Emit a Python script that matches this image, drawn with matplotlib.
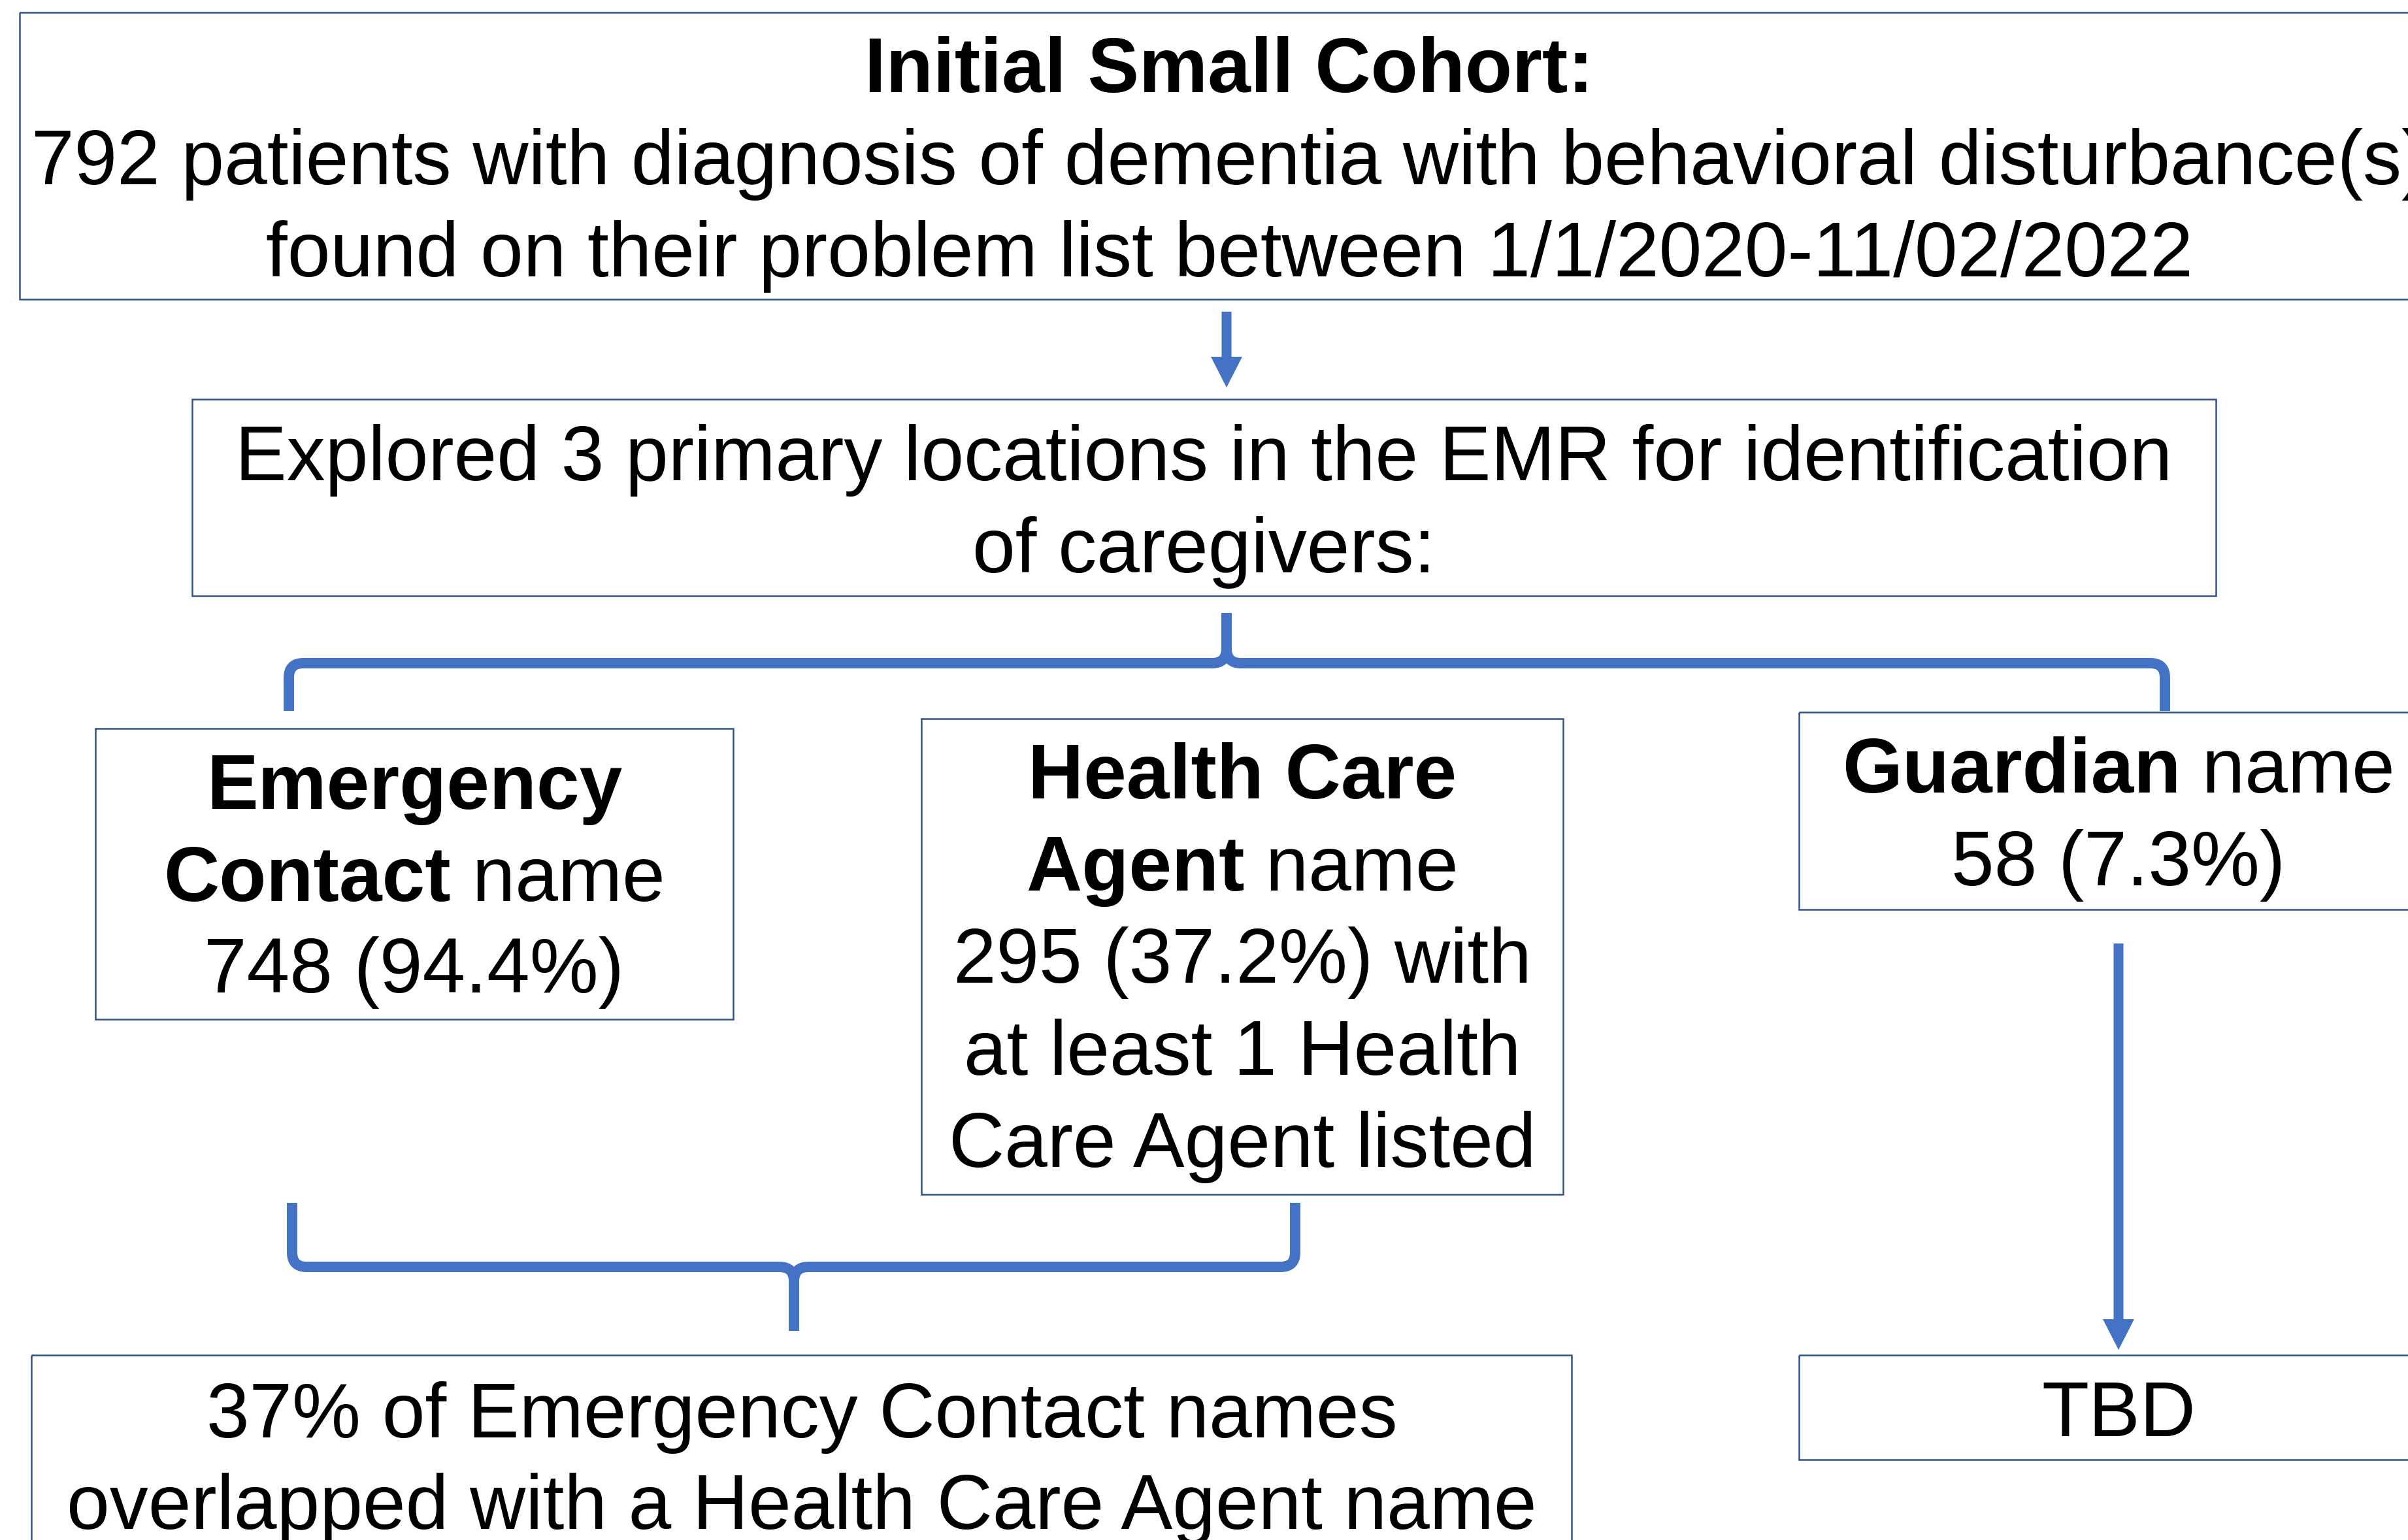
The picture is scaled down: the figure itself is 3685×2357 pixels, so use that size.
import matplotlib
matplotlib.use("Agg")
import matplotlib.pyplot as plt
from matplotlib.patches import Rectangle, FancyArrow, PathPatch
from matplotlib.path import Path

# ---------------------------------------------------------------------------
# Cohort numbers
# ---------------------------------------------------------------------------
TOTAL_PATIENTS = 792
DATE_START = "1/1/2020"
DATE_END = "11/02/2022"
N_LOCATIONS = 3
COUNTS = [748, 295, 58]              # emergency contact, health care agent, guardian
PERCENTS = [94.4, 37.2, 7.3]
OVERLAP_PCT = 37
GUARDIAN_RESULT = "TBD"

# ---------------------------------------------------------------------------
# Style
# ---------------------------------------------------------------------------
W, H = 3685, 2357
FONT = "Liberation Sans"
FS = 85
EDGE = "#2F528F"
BLUE = "#4472C4"
BOX_LW = 1.8
BRACE_LW = 11.5

fig = plt.figure(figsize=(W / 100, H / 100), dpi=100, facecolor="white")
ax = fig.add_axes([0, 0, 1, 1])
ax.set_xlim(0, W)
ax.set_ylim(H, 0)
ax.axis("off")
renderer = fig.canvas.get_renderer()


def box(x0, y0, x1, y1):
    ax.add_patch(Rectangle((x0, y0), x1 - x0, y1 - y0, fill=False,
                           edgecolor=EDGE, lw=BOX_LW))


def line(cx, y, parts):
    # parts: list of (text, weight); the whole line is centred on cx
    texts = [ax.text(0, y, s, fontsize=FS, fontweight=w, family=FONT,
                     va="baseline", ha="left", color="black")
             for s, w in parts]
    widths = [t.get_window_extent(renderer).width for t in texts]
    x = cx - sum(widths) / 2
    for t, wd in zip(texts, widths):
        t.set_x(x)
        x += wd


def arrow(x, y0, y1):
    ax.add_patch(FancyArrow(x, y0, 0, y1 - y0, width=15, head_width=48,
                            head_length=47, length_includes_head=True,
                            color=BLUE, lw=0))


def brace(xl, xr, xm, y_end, y_bar, y_tip, r=22):
    s = 1 if y_end > y_bar else -1   # direction of the end legs
    t = 1 if y_tip > y_bar else -1   # direction of the tip
    verts = [(xl, y_end), (xl, y_bar + s * r), (xl, y_bar), (xl + r, y_bar),
             (xm - r, y_bar), (xm, y_bar), (xm, y_bar + t * r), (xm, y_tip),
             (xm, y_bar + t * r), (xm, y_bar), (xm + r, y_bar),
             (xr - r, y_bar), (xr, y_bar), (xr, y_bar + s * r), (xr, y_end)]
    codes = [Path.MOVETO, Path.LINETO, Path.CURVE3, Path.CURVE3,
             Path.LINETO, Path.CURVE3, Path.CURVE3, Path.LINETO,
             Path.MOVETO, Path.CURVE3, Path.CURVE3,
             Path.LINETO, Path.CURVE3, Path.CURVE3, Path.LINETO]
    ax.add_patch(PathPatch(Path(verts, codes), fill=False, edgecolor=BLUE,
                           lw=BRACE_LW, capstyle="butt", joinstyle="round"))


# top cohort box
box(30, 19, 3732, 458)
line(1881, 141, [("Initial Small Cohort:", "bold")])
line(1881, 282, [(f"{TOTAL_PATIENTS} patients with diagnosis of dementia "
                  "with behavioral disturbance(s)", "normal")])
line(1881, 423, [(f"found on their problem list between {DATE_START}-{DATE_END}",
                  "normal")])

arrow(1877, 477, 593)

# explored locations
box(294, 611, 3391, 912)
line(1842, 735, [(f"Explored {N_LOCATIONS} primary locations in the EMR "
                  "for identification", "normal")])
line(1842, 876, [("of caregivers:", "normal")])

brace(442, 3313, 1877, 1088, 1015, 938)

# emergency contact
box(146, 1115, 1122, 1560)
line(634, 1238, [("Emergency", "bold")])
line(634, 1379, [("Contact", "bold"), (" name", "normal")])
line(634, 1519, [(f"{COUNTS[0]} ({PERCENTS[0]}%)", "normal")])

# health care agent
box(1410, 1100, 2392, 1828)
line(1901, 1222, [("Health Care", "bold")])
line(1901, 1363, [("Agent", "bold"), (" name", "normal")])
line(1901, 1504, [(f"{COUNTS[1]} ({PERCENTS[1]}%) with", "normal")])
line(1901, 1645, [("at least 1 Health", "normal")])
line(1901, 1786, [("Care Agent listed", "normal")])

# guardian
box(2753, 1090, 3730, 1392)
line(3242, 1213, [("Guardian", "bold"), (" name", "normal")])
line(3242, 1355, [(f"{COUNTS[2]} ({PERCENTS[2]}%)", "normal")])

arrow(3242, 1444, 2066)

box(2753, 2074, 3730, 2234)
line(3242, 2198, [(GUARDIAN_RESULT, "normal")])

# overlap of emergency contacts and agents
brace(447, 1982, 1215, 1841, 1939, 2037)

box(48, 2074, 2405, 2420)
line(1227, 2200, [(f"{OVERLAP_PCT}% of Emergency Contact names", "normal")])
line(1227, 2340, [("overlapped with a Health Care Agent name", "normal")])

fig.savefig("out.png", dpi=100, facecolor="white")
